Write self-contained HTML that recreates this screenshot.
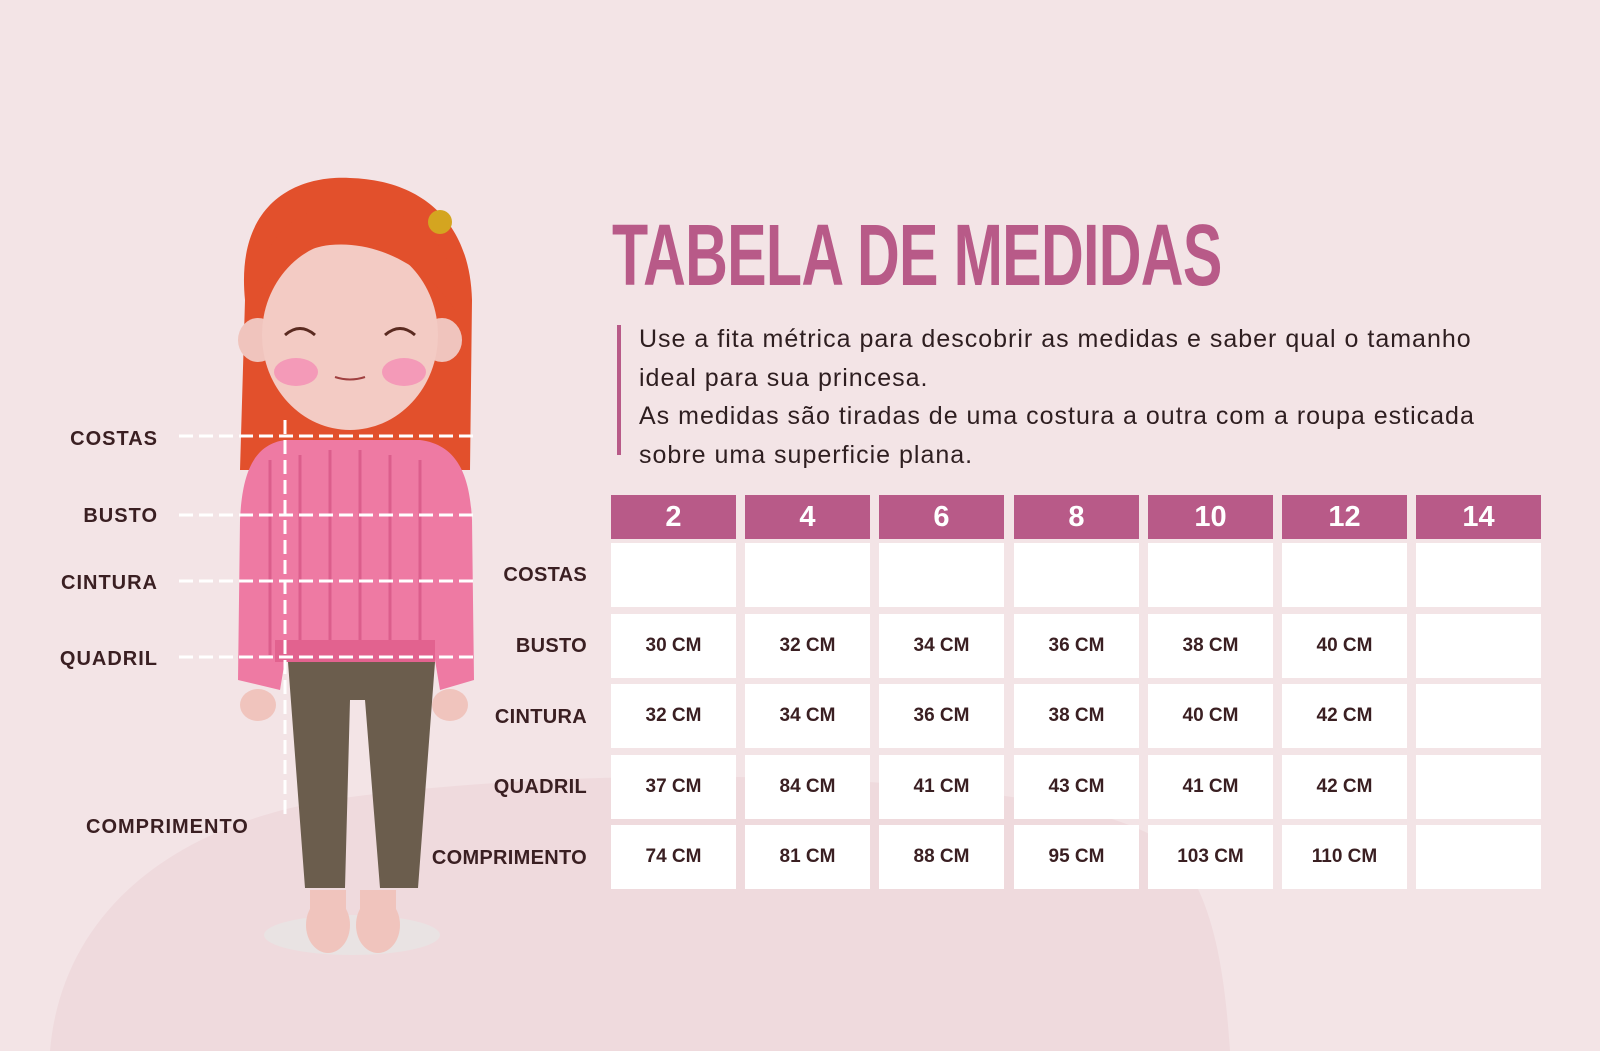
<!DOCTYPE html>
<html><head><meta charset="utf-8"><style>
html,body{margin:0;padding:0}
body{width:1600px;height:1051px;background:#f3e4e6;position:relative;overflow:hidden;font-family:"Liberation Sans",sans-serif}
.t{position:absolute;color:#3a1f22;font-weight:bold;font-size:20px;letter-spacing:0.3px;white-space:nowrap}
.l{letter-spacing:1px}
.r{text-align:right}
.title{position:absolute;left:612px;top:206px;font-family:"Liberation Sans Narrow","Liberation Sans",sans-serif;font-weight:bold;font-size:87px;color:#b85a88;transform:scaleX(0.68);transform-origin:left top;white-space:nowrap;letter-spacing:-1px}
.p{position:absolute;left:639px;top:320px;font-size:25px;line-height:38.5px;color:#2e1e20;width:880px;letter-spacing:1px}
.bar{position:absolute;left:617px;top:325px;width:4px;height:130px;background:#b85a88}
.c{position:absolute;width:125px;background:#fff;display:flex;align-items:center;justify-content:center;font-weight:bold;font-size:19px;color:#3a1f22}
.h{background:#b85a88;color:#fff;font-size:29px;height:44px;top:495px}
</style></head><body>
<svg width="1600" height="1051" style="position:absolute;left:0;top:0">
<path d="M50 1051 C60 930 150 830 330 800 C600 760 1050 770 1160 840 C1215 880 1225 980 1230 1051Z" fill="#efdadd"/>
<ellipse cx="352" cy="935" rx="88" ry="20" fill="#e9e3e3"/>
<path d="M245 300 C235 200 300 175 350 178 C420 180 470 220 472 300 L470 470 L240 470 Z" fill="#e2502c"/>
<path d="M285 440 L420 440 C460 445 470 480 472 520 L474 680 L440 690 L435 660 L285 660 L280 690 L238 680 L240 520 C242 480 250 445 285 440Z" fill="#ee7aa3"/>
<path d="M270 460 L270 655 M300 455 L300 655 M330 450 L330 655 M360 450 L360 655 M390 455 L390 655 M420 460 L420 655" stroke="#dc5e8c" stroke-width="3"/>
<rect x="275" y="640" width="160" height="22" fill="#e2628f"/>
<ellipse cx="258" cy="705" rx="18" ry="16" fill="#f0c4bd"/><ellipse cx="450" cy="705" rx="18" ry="16" fill="#f0c4bd"/>
<path d="M288 662 L435 662 L418 888 L380 888 L365 700 L350 700 L345 888 L305 888 Z" fill="#6b5d4d"/>
<ellipse cx="328" cy="925" rx="22" ry="28" fill="#f0c4bd"/><ellipse cx="378" cy="925" rx="22" ry="28" fill="#f0c4bd"/>
<rect x="310" y="890" width="36" height="22" fill="#f0c4bd"/><rect x="360" y="890" width="36" height="22" fill="#f0c4bd"/>
<ellipse cx="258" cy="340" rx="20" ry="22" fill="#f0c4bd"/><ellipse cx="442" cy="340" rx="20" ry="22" fill="#f0c4bd"/>
<ellipse cx="350" cy="335" rx="88" ry="95" fill="#f3cbc4"/>
<path d="M255 300 C260 220 320 200 360 205 C420 210 460 250 455 310 C430 270 380 240 330 245 C300 248 270 270 255 300Z" fill="#e2502c"/>
<circle cx="440" cy="222" r="12" fill="#d4a520"/>
<ellipse cx="296" cy="372" rx="22" ry="14" fill="#f49ab8"/><ellipse cx="404" cy="372" rx="22" ry="14" fill="#f49ab8"/>
<path d="M285 335 Q300 322 315 335 M385 335 Q400 322 415 335" stroke="#5a2a20" stroke-width="3" fill="none"/>
<path d="M335 377 Q350 382 365 377" stroke="#a04040" stroke-width="2" fill="none"/>
<g stroke="#fff" stroke-width="3" stroke-dasharray="14 6">
<line x1="179" y1="436" x2="476" y2="436"/><line x1="179" y1="515" x2="476" y2="515"/>
<line x1="179" y1="581" x2="476" y2="581"/><line x1="179" y1="657" x2="476" y2="657"/>
<line x1="285" y1="420" x2="285" y2="815"/>
</g>
</svg>
<div class="t r l" style="right:1442px;top:428px">COSTAS</div>
<div class="t r l" style="right:1442px;top:505px">BUSTO</div>
<div class="t r l" style="right:1442px;top:572px">CINTURA</div>
<div class="t r l" style="right:1442px;top:648px">QUADRIL</div>
<div class="t l" style="left:86px;top:816px">COMPRIMENTO</div>
<div class="title">TABELA DE MEDIDAS</div>
<div class="bar"></div>
<div class="p">Use a fita métrica para descobrir as medidas e saber qual o tamanho ideal para sua princesa.<br>As medidas são tiradas de uma costura a outra com a roupa esticada sobre uma superficie plana.</div>
<div class="t r" style="right:1013px;top:564px">COSTAS</div>
<div class="t r" style="right:1013px;top:635px">BUSTO</div>
<div class="t r" style="right:1013px;top:706px">CINTURA</div>
<div class="t r" style="right:1013px;top:776px">QUADRIL</div>
<div class="t r" style="right:1013px;top:847px">COMPRIMENTO</div>
<div id="g"></div>
<script>
var H=["2","4","6","8","10","12","14"];
var R=[["","","","","","",""],["30 CM","32 CM","34 CM","36 CM","38 CM","40 CM",""],["32 CM","34 CM","36 CM","38 CM","40 CM","42 CM",""],["37 CM","84 CM","41 CM","43 CM","41 CM","42 CM",""],["74 CM","81 CM","88 CM","95 CM","103 CM","110 CM",""]];
var tops=[543,614,684,755,825],s="";
for(var i=0;i<7;i++){var x=Math.round(611+i*134.2);
s+='<div class="c h" style="left:'+x+'px">'+H[i]+'</div>';
for(var j=0;j<5;j++)s+='<div class="c" style="left:'+x+'px;top:'+tops[j]+'px;height:64px">'+R[j][i]+'</div>';}
document.getElementById("g").innerHTML=s;
</script>
</body></html>
